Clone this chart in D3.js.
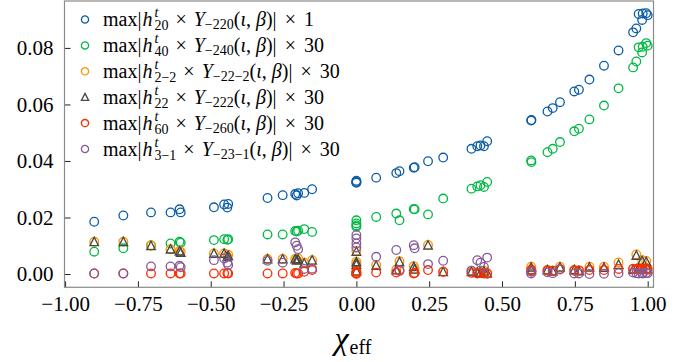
<!DOCTYPE html>
<html>
<head>
<meta charset="utf-8">
<script src="https://cdn.jsdelivr.net/npm/d3@7"></script>
<style>
  body { margin: 0; background: #fff; }
  .axis line { stroke: #222; stroke-width: 1; }
  .axis path { display: none; }
</style>
</head>
<body>
<svg id="chart"></svg>
<script>
// chi_eff of each simulation (shared by all series)
const chiEff = [-0.9, -0.8, -0.705, -0.638, -0.607, -0.603, -0.489, -0.454, -0.44, -0.443,
  -0.305, -0.253, -0.21, -0.205, -0.2, -0.179, -0.152, 0, 0, 0,
  0, 0.068, 0.137, 0.148, 0.197, 0.2, 0.246, 0.298, 0.395, 0.415,
  0.426, 0.438, 0.449, 0.6, 0.601, 0.656, 0.674, 0.699, 0.748, 0.764,
  0.8, 0.85, 0.9, 0.95, 0.961, 0.969, 0.981, 0.983, 0.995, 1.0];

const ampH20 = [0.0185, 0.0207, 0.0218, 0.0218, 0.0229, 0.0218, 0.0236, 0.0246, 0.0248, 0.0235,
  0.0269, 0.0279, 0.0283, 0.0278, 0.0286, 0.0287, 0.0300, 0.0330, 0.0326, 0.0323,
  0.0325, 0.0341, 0.0357, 0.0364, 0.0376, 0.0378, 0.0399, 0.0412, 0.0443, 0.0452,
  0.0455, 0.0452, 0.0470, 0.0543, 0.0545, 0.0575, 0.0587, 0.0608, 0.0646, 0.0652,
  0.0688, 0.0737, 0.0791, 0.0855, 0.0869, 0.0920, 0.0899, 0.0922, 0.0923, 0.0916];

const ampH40 = [0.0079, 0.0091, 0.0101, 0.0108, 0.0114, 0.0111, 0.0120, 0.0123, 0.0123, 0.0121,
  0.0140, 0.0140, 0.0152, 0.0150, 0.0153, 0.0159, 0.0149, 0.0190, 0.0179, 0.0167,
  0.0172, 0.0202, 0.0214, 0.0190, 0.0230, 0.0229, 0.0211, 0.0267, 0.0302, 0.0310,
  0.0314, 0.0308, 0.0326, 0.0402, 0.0396, 0.0431, 0.0443, 0.0467, 0.0505, 0.0514,
  0.0547, 0.0596, 0.0657, 0.0731, 0.0752, 0.0802, 0.0784, 0.0804, 0.0817, 0.0808];

const ampH2m2 = [0.0114, 0.0114, 0.0102, 0.0088, 0.0081, 0.0079, 0.0073, 0.0073, 0.0068, 0.0061,
  0.0053, 0.0053, 0.0053, 0.0050, 0.0055, 0.0040, 0.0049, 0.0082, 0.0043, 0.0035,
  0.0012, 0.0032, 0.0016, 0.0045, 0.0028, 0.0018, 0.0103, 0.0008, 0.0010, 0.0006,
  0.0005, 0.0012, 0.0004, 0.0026, 0.0016, 0.0015, 0.0012, 0.0026, 0.0015, 0.0012,
  0.0026, 0.0026, 0.0041, 0.0019, 0.0069, 0.0022, 0.0049, 0.0022, 0.0046, 0.0020];

const ampH22 = [0.0114, 0.0114, 0.0100, 0.0088, 0.0081, 0.0076, 0.0073, 0.0073, 0.0065, 0.0061,
  0.0053, 0.0053, 0.0053, 0.0049, 0.0052, 0.0038, 0.0049, 0.0080, 0.0043, 0.0034,
  0.0010, 0.0030, 0.0014, 0.0043, 0.0026, 0.0017, 0.0102, 0.0008, 0.0008, 0.0005,
  0.0004, 0.0010, 0.0003, 0.0024, 0.0014, 0.0014, 0.0010, 0.0024, 0.0015, 0.0011,
  0.0024, 0.0023, 0.0034, 0.0016, 0.0066, 0.0020, 0.0047, 0.0019, 0.0044, 0.0018];

const ampH60 = [0.0002, 0.0002, 0.0002, 0.0002, 0.0002, 0.0002, 0.0002, 0.0002, 0.0002, 0.0003,
  0.0002, 0.0002, 0.0004, 0.0002, 0.0002, 0.0008, 0.0014, 0.0008, 0.0002, 0.0004,
  0.0001, 0.0005, 0.0005, 0.0011, 0.0002, 0.0004, 0.0014, 0.0008, 0.0004, 0.0002,
  0.0003, 0.0002, 0.0001, 0.0014, 0.0010, 0.0012, 0.0012, 0.0016, 0.0012, 0.0013,
  0.0014, 0.0014, 0.0018, 0.0018, 0.0018, 0.0016, 0.0019, 0.0016, 0.0018, 0.0015];

const ampH3m1 = [0.0002, 0.0002, 0.0027, 0.0027, 0.0029, 0.0024, 0.0049, 0.0055, 0.0032, 0.0040,
  0.0047, 0.0040, 0.0112, 0.0100, 0.0088, 0.0018, 0.0019, 0.0138, 0.0126, 0.0108,
  0.0094, 0.0061, 0.0085, 0.0014, 0.0102, 0.0091, 0.0035, 0.0047, 0.0012, 0.0049,
  0.0040, 0.0025, 0.0058, 0.0002, 0.0008, 0.0006, 0.0003, 0.0018, 0.0002, 0.0002,
  0.0000, 0.0001, 0.0003, 0.0005, 0.0003, 0.0002, 0.0003, 0.0002, 0.0004, 0.0003];

// legend label pieces: h subscript, Y subscript, scale factor
const hModes = ['20', '40', '2−2', '22', '60', '3−1'];
const yModes = ['−220', '−240', '−22−2', '−222', '−260', '−23−1'];
const factors = ['1', '30', '30', '30', '30', '30'];

const xTicks = [-1, -0.75, -0.5, -0.25, 0, 0.25, 0.5, 0.75, 1];
const yTicks = [0, 0.02, 0.04, 0.06, 0.08];

const SERIF = "'Liberation Serif', 'Times New Roman', serif";

class ModeScatter {

    constructor(_config, _series) {
        this.config = {
            parentElement: _config.parentElement,
            containerWidth: _config.containerWidth || 694,
            containerHeight: _config.containerHeight || 362,
            margin: _config.margin || { top: 1, right: 40.5, bottom: 74.7, left: 64.5 }
        };
        this.series = _series;
        this.initVis();
    }

    initVis() {
        let vis = this;

        vis.width = vis.config.containerWidth - vis.config.margin.left - vis.config.margin.right;
        vis.height = vis.config.containerHeight - vis.config.margin.top - vis.config.margin.bottom;

        vis.xScale = d3.scaleLinear()
            .domain([-1.002, 1.02])
            .range([0, vis.width]);

        vis.yScale = d3.scaleLinear()
            .domain([-0.0047, 0.0966])
            .range([vis.height, 0]);

        // ticks point inward, like the matplotlib style
        vis.xAxis = d3.axisBottom(vis.xScale)
            .tickValues(xTicks)
            .tickSizeInner(-6)
            .tickSizeOuter(0)
            .tickPadding(9)
            .tickFormat(d3.format('.2f'));

        vis.yAxis = d3.axisLeft(vis.yScale)
            .tickValues(yTicks)
            .tickSizeInner(-6)
            .tickSizeOuter(0)
            .tickPadding(11)
            .tickFormat(d3.format('.2f'));

        vis.svg = d3.select(vis.config.parentElement)
            .attr('width', vis.config.containerWidth)
            .attr('height', vis.config.containerHeight);

        vis.chart = vis.svg.append('g')
            .attr('transform', `translate(${vis.config.margin.left},${vis.config.margin.top})`);

        vis.xAxisG = vis.chart.append('g')
            .attr('class', 'axis x-axis')
            .attr('transform', `translate(0,${vis.height})`);

        vis.yAxisG = vis.chart.append('g')
            .attr('class', 'axis y-axis');

        vis.marks = vis.chart.append('g');

        vis.chart.append('rect')
            .attr('width', vis.width)
            .attr('height', vis.height)
            .attr('fill', 'none')
            .attr('stroke', '#8a8a8a')
            .attr('stroke-width', 1.2);

        // x label: chi_eff
        const xl = vis.chart.append('text')
            .attr('x', vis.width / 2 - 6)
            .attr('y', vis.height + 62)
            .attr('text-anchor', 'middle')
            .style('font-family', SERIF)
            .style('font-size', '32px');
        xl.append('tspan').style('font-style', 'italic').text('χ');
        xl.append('tspan').attr('dy', 5).attr('dx', 1).style('font-size', '20px').text('eff');

        vis.legend = vis.chart.append('g');
    }

    updateVis() {
        let vis = this;
        vis.xValue = d => d.x;
        vis.yValue = d => d.y;
        vis.renderVis();
    }

    marker(sel, s, r) {
        if (s.shape === 'triangle') {
            sel.append('path')
                .attr('d', `M0,${-r * 1.05}L${r},${r * 0.9}L${-r},${r * 0.9}Z`)
                .attr('fill', 'none')
                .attr('stroke', s.color)
                .attr('stroke-width', 1.3);
        } else {
            sel.append('circle')
                .attr('r', r)
                .attr('fill', 'none')
                .attr('stroke', s.color)
                .attr('stroke-width', 1.3);
        }
    }

    renderVis() {
        let vis = this;

        vis.series.forEach(s => {
            const pts = chiEff.map((x, i) => ({ x: x, y: s.values[i] }));
            vis.marks.append('g')
                .selectAll('g')
                .data(pts)
                .join('g')
                .attr('transform', d => `translate(${vis.xScale(vis.xValue(d))},${vis.yScale(vis.yValue(d))})`)
                .each(function () { vis.marker(d3.select(this), s, 4.3); });
        });

        vis.xAxisG.call(vis.xAxis);
        vis.yAxisG.call(vis.yAxis);
        vis.chart.selectAll('.axis text')
            .style('font-family', SERIF)
            .style('font-size', '21px')
            .attr('fill', '#000');

        // legend (no frame)
        vis.series.forEach((s, i) => {
            const row = vis.legend.append('g')
                .attr('transform', `translate(20.5,${18.5 + i * 25.9})`);
            vis.marker(row, s, 3.6);

            const t = row.append('text')
                .attr('x', 18)
                .attr('y', 6.5)
                .style('font-family', SERIF)
                .style('font-size', '20px');
            t.append('tspan').text('max|');
            t.append('tspan').attr('dx', 1).style('font-style', 'italic').text('h');
            const sup = t.append('tspan').attr('dy', -9).attr('dx', 2)
                .style('font-size', '14px').style('font-style', 'italic').text('t');
            const supW = sup.node().getComputedTextLength();
            t.append('tspan').attr('dy', 13).attr('dx', -supW)
                .style('font-size', '14px').text(hModes[i]);
            t.append('tspan').attr('dy', -4).attr('dx', 7).text('×');
            t.append('tspan').attr('dx', 7).style('font-style', 'italic').text('Y');
            t.append('tspan').attr('dy', 3)
                .style('font-size', '14px').text(yModes[i]);
            t.append('tspan').attr('dy', -3).text('(');
            t.append('tspan').style('font-style', 'italic').text('ι');
            t.append('tspan').text(',');
            t.append('tspan').attr('dx', 5).style('font-style', 'italic').text('β');
            t.append('tspan').text(')|');
            t.append('tspan').attr('dx', 8).text('×');
            t.append('tspan').attr('dx', 8).text(factors[i]);
        });
    }
}

const series = [
    { values: ampH20, color: '#0C5DA5', shape: 'circle' },
    { values: ampH40, color: '#00B945', shape: 'circle' },
    { values: ampH2m2, color: '#FF9500', shape: 'circle' },
    { values: ampH22, color: '#474747', shape: 'triangle' },
    { values: ampH60, color: '#FF2C00', shape: 'circle' },
    { values: ampH3m1, color: '#845B97', shape: 'circle' }
];

const chart = new ModeScatter({ parentElement: '#chart' }, series);
chart.updateVis();
</script>
</body>
</html>
